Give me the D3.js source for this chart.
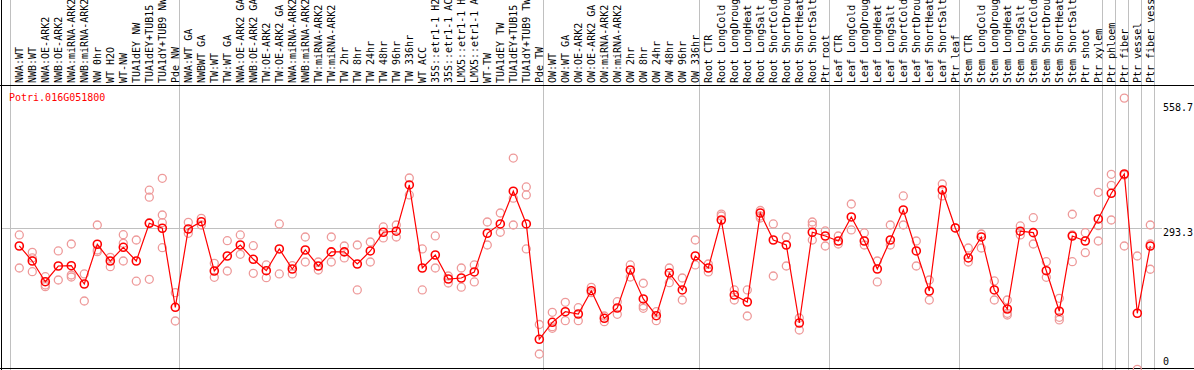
<!DOCTYPE html>
<html><head><meta charset="utf-8">
<script src="https://cdn.jsdelivr.net/npm/d3@7"></script>
<style>
html,body{margin:0;padding:0;background:#fff;}
svg{display:block;}
text{font-family:"DejaVu Sans Mono",monospace;font-size:10px;}
</style></head>
<body>
<script>
const geneName = "Potri.016G051800";
const categories = [
"NWA:WT","NWB:WT","NWA:OE-ARK2","NWB:OE-ARK2","NWA:miRNA-ARK2","NWB:miRNA-ARK2","NW 0hr","WT H2O","WT-NW","TUA1dEY NW","TUA1dEY+TUB15 NW","TUA1dY+TUB9 NW","Pde NW",
"NWA:WT GA","NWBWT GA","TW:WT","TW:WT GA","NWA:OE-ARK2 GA","NWB:OE-ARK2 GA","TW:OE-ARK2","TW:OE-ARK2 GA","NWA:miRNA-ARK2 GA","NWB:miRNA-ARK2 GA","TW:miRNA-ARK2","TW:miRNA-ARK2 GA","TW 2hr","TW 8hr","TW 24hr","TW 48hr","TW 96hr","TW 336hr","WT ACC","35S::etr1-1 H2O","35S::etr1-1 ACC","LMX5::etr1-1 H2O","LMX5::etr1-1 ACC","WT-TW","TUA1dEY TW","TUA1dEY+TUB15 TW","TUA1dY+TUB9 TW","Pde TW",
"OW:WT","OW:WT GA","OW:OE-ARK2","OW:OE-ARK2 GA","OW:miRNA-ARK2","OW:miRNA-ARK2 GA","OW 2hr","OW 8hr","OW 24hr","OW 48hr","OW 96hr","OW 336hr",
"Root CTR","Root LongCold","Root LongDrought","Root LongHeat","Root LongSalt","Root ShortCold","Root ShortDrought","Root ShortHeat","Root ShortSalt","Ptr root",
"Leaf CTR","Leaf LongCold","Leaf LongDrought","Leaf LongHeat","Leaf LongSalt","Leaf ShortCold","Leaf ShortDrought","Leaf ShortHeat","Leaf ShortSalt","Ptr leaf",
"Stem CTR","Stem LongCold","Stem LongDrought","Stem LongHeat","Stem LongSalt","Stem ShortCold","Stem ShortDrought","Stem ShortHeat","Stem ShortSalt","Ptr shoot",
"Ptr xylem","Ptr phloem","Ptr fiber","Ptr vessel","Ptr fiber vessel"];

const means = [
256.5,225.8,183.5,215.6,216.2,178.8,260.0,225.8,253.8,225.8,302.9,292.7,131.2,
291.2,306.1,205.4,236.0,258.5,229.3,206.0,250.4,209.5,248.3,215.6,244.4,244.4,219.7,246.3,284.6,286.7,381.2,211.5,238.1,189.0,191.1,203.4,282.5,301.5,368.4,301.5,65.8,
100.5,122.2,117.5,165.1,108.7,129.8,207.4,148.2,114.0,201.3,166.6,236.0,
211.5,309.6,156.3,142.0,323.9,268.7,258.5,99.1,284.6,276.9,
266.7,315.8,266.7,209.5,268.7,330.1,246.3,164.5,370.9,293.3,
232.0,274.9,166.6,127.7,286.7,283.7,206.0,123.2,276.9,266.7,
311.7,364.2,403.6,119.0,256.5];

const replicates = [
[279.0,211.5],[243.6,204.0,232.0],[193.7,176.8,173.3],[246.3,187.0],[260.6,197.2,193.1],[199.3,144.1],[299.4,248.3,244.8],[233.4,214.2],[279.6,262.0,225.8],[268.7,184.5],[370.5,356.2,188.4,304.1],[394.8,319.8,304.1,253.0],[161.0,103.2],
[304.9,282.4],[313.1,299.4],[221.1,192.5],[267.3,205.4],[279.0,239.5],[257.1,200.7],[217.7,191.7],[301.5,199.3],[216.2,199.3],[274.9,223.8],[223.8,207.4],[274.9,223.8],[256.5,232.0],[258.5,166.6],[264.6,223.8],[295.4,272.9],[299.4,274.9],[395.4,360.8],[250.4,166.6],[277.0,211.5],[195.2,180.9],[211.5,172.3],[217.7,183.0],[305.5,258.5],[323.9,284.6],[436.2,354.2,299.4],[377.1,360.8,250.4],[96.0,35.8],
[121.0,91.6,88.3],[141.4,103.8],[130.4,103.8],[172.1,161.0],[113.4,101.8],[142.7,116.9],[217.7,193.1],[180.3,133.9,129.2],[122.2,103.8],[211.5,181.5],[191.1,146.1],[268.7,217.7],
[219.7,203.4],[321.8,317.8],[166.6,146.1],[166.6,113.4],[329.0,317.8,313.7],[301.5,195.2],[274.9,215.6],[109.3,84.8],[305.5,299.4,268.7],[287.2,256.5],
[276.9,260.6],[342.3,289.3],[283.1,258.5],[225.8,183.0],[299.4,258.5],[358.7,299.4],[266.7,215.6],[187.0,146.1],[383.2,358.7],[293.3],
[252.4,223.8],[281.0,252.4],[185.0,146.1],[146.1,118.9,115.5],[297.4,279.0],[314.3,260.6],[224.4,192.5],[149.6,110.8,105.3],[321.3,279.0,224.4],[283.7,242.8],
[366.2,298.0,266.7],[403.0,380.5,309.6],[558.7,401.6,256.5],[236.0,4.5],[299.4,260.6,208.9]];

const tickValues = [558.7, 293.3, 0];
const tickLabels = ["558.7", "293.3", "0"];
const refValue = 293.3;
const separatorsAfter = [0, 13, 41, 53, 63, 73, 84, 85, 86, 87, 88];

const W = 1194, H = 370;
const svg = d3.select("body").append("svg").attr("width", W).attr("height", H);

const x = d3.scaleLinear().domain([1, categories.length]).range([19.3, 1150.3]);
const y = d3.scaleLinear().domain([0, 558.7]).range([371.5, 98.1]);

// separators
svg.append("g").selectAll("line").data(separatorsAfter).join("line")
  .attr("x1", d => Math.floor(x(d) + 4.6) + 0.5).attr("x2", d => Math.floor(x(d) + 4.6) + 0.5)
  .attr("y1", 0).attr("y2", H)
  .attr("stroke", "#c0c0c0").attr("stroke-width", 1);

// reference line
svg.append("line")
  .attr("x1", 2).attr("x2", 1162)
  .attr("y1", Math.round(y(refValue)) + 0.5).attr("y2", Math.round(y(refValue)) + 0.5)
  .attr("stroke", "#c0c0c0").attr("stroke-width", 1);

// frame
svg.append("line").attr("x1", 1.5).attr("x2", 1.5).attr("y1", 0).attr("y2", H).attr("stroke", "#000");
svg.append("line").attr("x1", 0).attr("x2", W).attr("y1", 85.5).attr("y2", 85.5).attr("stroke", "#000");
svg.append("line").attr("x1", 0).attr("x2", W).attr("y1", 368.5).attr("y2", 368.5).attr("stroke", "#000");

// category labels
svg.append("g").selectAll("text").data(categories).join("text")
  .attr("transform", (d, i) => `translate(${x(i + 1)},83) rotate(-90)`)
  .attr("dy", "0.35em")
  .attr("fill", "#000")
  .text(d => d);

// title
svg.append("text").attr("x", 9).attr("y", 100.5).attr("fill", "#ff0000").text(geneName);

// y labels
svg.append("g").selectAll("text").data(tickValues).join("text")
  .attr("x", 1163)
  .attr("y", (d, i) => i === 0 ? y(d) + 12.5 : (i === 2 ? 365 : y(d) + 8))
  .attr("fill", "#000")
  .text((d, i) => tickLabels[i]);

// replicate circles
const repPts = [];
replicates.forEach((arr, i) => arr.forEach(v => repPts.push({i: i + 1, v})));
svg.append("g").selectAll("circle").data(repPts).join("circle")
  .attr("cx", d => x(d.i)).attr("cy", d => y(d.v)).attr("r", 4)
  .attr("fill", "none").attr("stroke", "#ee9a9a").attr("stroke-width", 1.3);

// mean line
const line = d3.line().x((d, i) => x(i + 1)).y(d => y(d));
svg.append("path").datum(means).attr("d", line)
  .attr("fill", "none").attr("stroke", "#ff0000").attr("stroke-width", 1.2);

svg.append("g").selectAll("circle").data(means).join("circle")
  .attr("cx", (d, i) => x(i + 1)).attr("cy", d => y(d)).attr("r", 4)
  .attr("fill", "none").attr("stroke", "#ff0000").attr("stroke-width", 1.6);
</script>
</body></html>
